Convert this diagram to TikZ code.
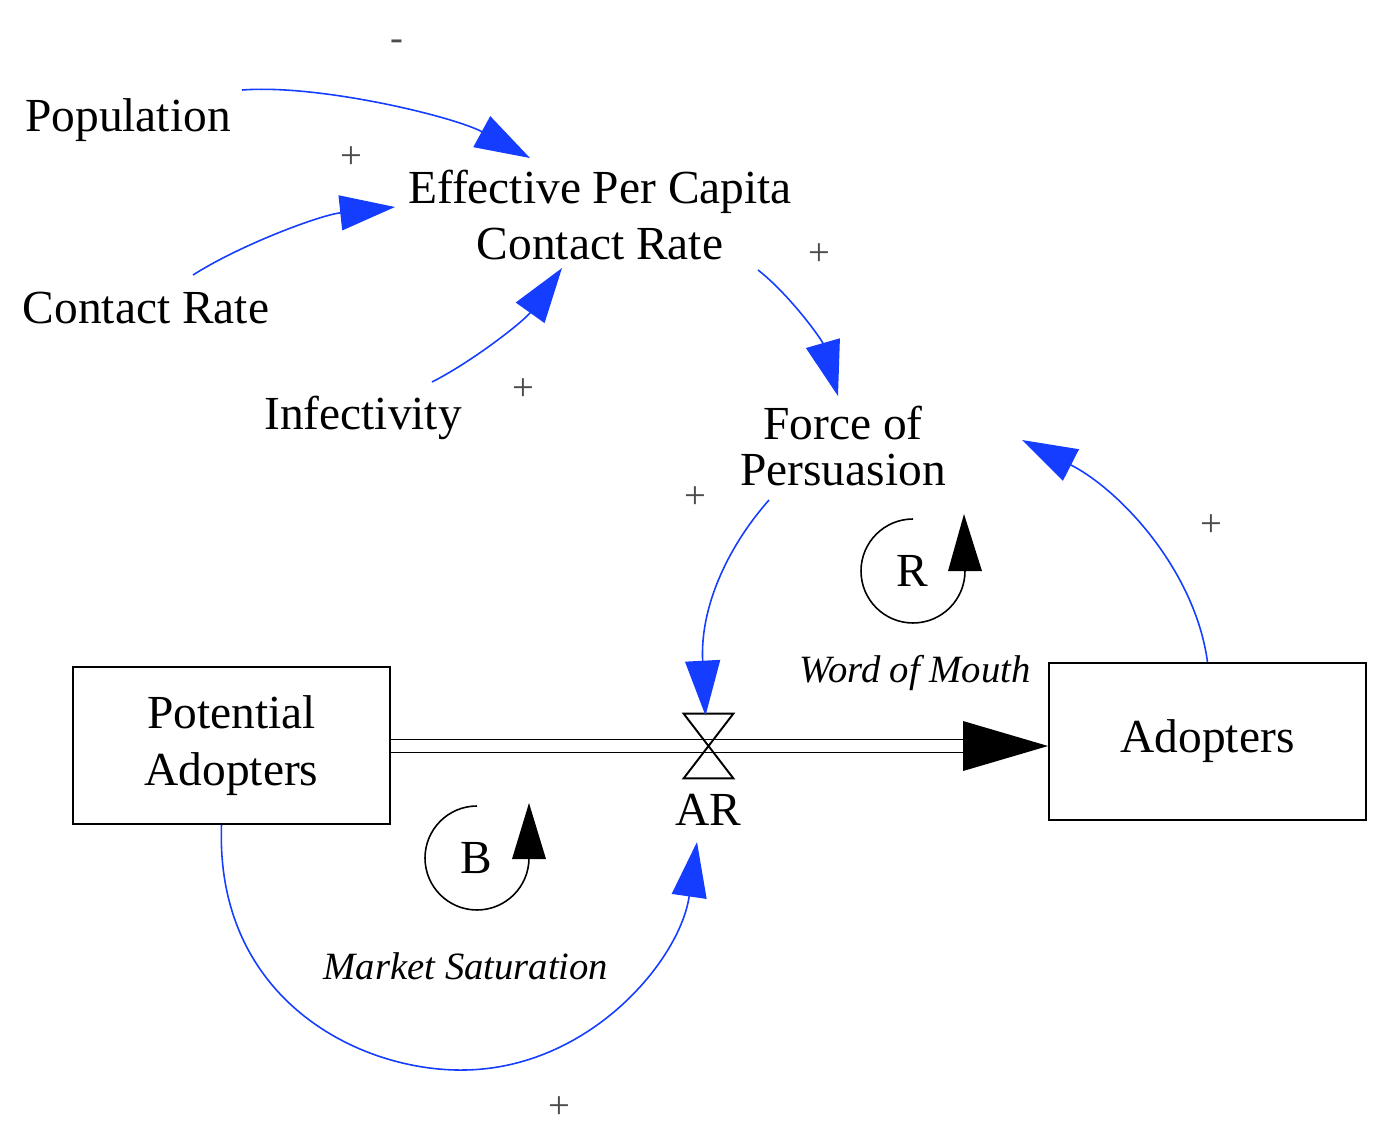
\documentclass[tikz,border=0pt]{standalone}
\usepackage{fontspec}
\setmainfont{Liberation Serif}
\usetikzlibrary{arrows.meta,calc}
\definecolor{linkBlue}{rgb}{0.08, 0.24, 1.0}
\definecolor{signGray}{rgb}{0.3, 0.3, 0.3}

\begin{document}
\begin{tikzpicture}[x=0.02cm, y=-0.02cm,
    vartext/.style={font=\fontsize{27}{32}\selectfont, align=center, inner sep=0pt},
    looptext/.style={font=\fontsize{22}{26}\selectfont\itshape, inner sep=0pt},
    sign/.style={font=\fontsize{22}{26}\selectfont, text=signGray, inner sep=0pt},
    stock/.style={draw, line width=1.1pt, minimum width=6.34cm, minimum height=3.14cm,
        font=\fontsize{27}{32}\selectfont, align=center},
    link/.style={linkBlue, line width=0.9pt, -{Triangle[length=1.1cm, width=0.7cm]}},
    flowline/.style={line width=1.1pt},
    loopline/.style={line width=0.9pt}]
        \useasboundingbox (0,0) rectangle (1384,1134);

        % auxiliaries
        \node[vartext] (pop) at (128,120) {Population};
        \node[vartext] (cr) at (146,308) {Contact Rate};
        \node[vartext] (inf) at (363,418) {Infectivity};
        \node[vartext] (epc) at (600,215) {Effective Per Capita\\Contact Rate};
        \node[vartext, font=\fontsize{27}{26.5}\selectfont] (fop) at (843,446) {Force of\\Persuasion};

        % stocks
        \node[stock] (pa) at (231.5,745.5) {Potential\\Adopters};
        \node[stock] (ad) at (1207.5,741.5) {Adopters};

        % flow
        \node[minimum width=0.98cm, minimum height=1.28cm, inner sep=0pt] (valve) at (708.5,746) {};
        \node[vartext] (ar) at (708,810) {AR};
        \draw[flowline] ($(pa.east|-valve)+(0,-6.5)$) -- ($(ad.west|-valve)+(-85,-6.5)$);
        \draw[flowline] ($(pa.east|-valve)+(0,6.5)$) -- ($(ad.west|-valve)+(-85,6.5)$);
        \fill ($(ad.west|-valve)+(-85,-25)$) -- (ad.west|-valve) -- ($(ad.west|-valve)+(-85,25)$) -- cycle;
        \draw[flowline] (valve.north west) -- (valve.north east) -- (valve.south west) -- (valve.south east) -- cycle;

        % links
        \draw[link] ($(pop)+(114,-30)$) .. controls (320,84) and (455,117) .. ($(epc)+(-70,-57)$);
        \draw[link] ($(cr)+(47,-33)$) .. controls (240,245) and (320,215) .. ($(epc)+(-205,-8)$);
        \draw[link] ($(inf)+(69,-36)$) .. controls (475,360) and (525,320) .. ($(epc)+(-38,53)$);
        \draw[link] ($(epc)+(158,55)$) .. controls (790,295) and (822,340) .. ($(fop)+(-5,-50)$);
        \draw[link] ($(fop)+(-74,54)$) .. controls (725,550) and (700,610) .. ($(valve.north)+(-3,2)$);
        \draw[link] (ad.north) .. controls (1195,570) and (1120,490) .. ($(fop)+(179,-6)$);
        \draw[link] ($(pa.south)+(-10,0)$) .. controls (215,1000) and (360,1072) .. (465,1070)
            .. controls (590,1068) and (680,960) .. ($(ar)+(-11,32)$);

        % polarities
        \node[sign] (s1) at (397,45) {-};
        \node[sign] (s2) at (351,158) {+};
        \node[sign] (s3) at (523,390) {+};
        \node[sign] (s4) at (819,255) {+};
        \node[sign] (s5) at (695,498) {+};
        \node[sign] (s6) at (1211,526) {+};
        \node[sign] (s7) at (559,1108) {+};

        % loops
        \node[vartext] (rloop) at (912,571) {R};
        \draw[loopline] ($(rloop)+(1,-52)$) arc[start angle=90, end angle=360, radius=1.04cm];
        \fill ($(rloop)+(36,0)$) -- ($(rloop)+(52,-57)$) -- ($(rloop)+(70,0)$) -- cycle;
        \node[looptext] (wom) at (915,673) {Word of Mouth};

        \node[vartext] (bloop) at (476,858) {B};
        \draw[loopline] ($(bloop)+(1,-52)$) arc[start angle=90, end angle=360, radius=1.04cm];
        \fill ($(bloop)+(36,1)$) -- ($(bloop)+(53,-55)$) -- ($(bloop)+(70,1)$) -- cycle;
        \node[looptext] (ms) at (466,966) {Market Saturation};

    \end{tikzpicture}
\end{document}
